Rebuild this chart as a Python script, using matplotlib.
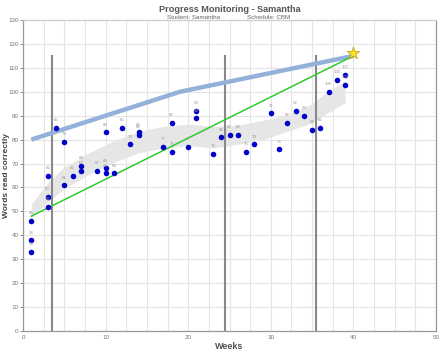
import numpy as np
import matplotlib
matplotlib.use('Agg')
import matplotlib.pyplot as plt

plt.rcParams['font.family'] = ['Liberation Sans', 'DejaVu Sans']

# scores
weeks = [1, 1, 1, 3, 3, 3, 4, 5, 5, 6, 7, 7, 9, 10, 10, 10, 11, 12, 13, 14, 14,
         17, 18, 18, 20, 21, 21, 23, 24, 25, 26, 27, 28, 30, 31, 32, 33, 34, 35,
         36, 37, 38, 39, 39]
scores = [33, 38, 46, 52, 56, 65, 85, 79, 61, 65, 69, 67, 67, 83, 68, 66, 66, 85,
          78, 83, 82, 77, 87, 75, 77, 92, 89, 74, 81, 82, 82, 75, 78, 91, 76, 87,
          92, 90, 84, 85, 100, 105, 107, 103]

# goal line (aim line) and trend line
goal_weeks = [1, 19, 40]
goal_vals = [80, 100, 115]
aim_weeks = [1, 40]
aim_vals = [48, 115]
star_week = 40
star_val = 116

# shaded trend band
band_weeks = [1, 3, 5, 8, 11, 14, 17, 20, 23, 26, 29, 32, 35, 37, 39]
band_mid = [50, 58, 64, 70, 75, 79, 81, 82, 81, 82, 84, 87, 91, 96, 100]
band_half = [3, 4, 4.5, 4.5, 4.5, 4.5, 4.5, 4.5, 4.5, 4, 4, 3.5, 4, 4.5, 4.5]

# phase change lines
phase_weeks = [3.5, 24.5, 35.5]
phase_top = 115

fig = plt.figure(figsize=(4.4, 3.56), dpi=100)
ax = fig.add_axes([23/440, 25/356, 413/440, 311/356])

ax.set_xlim(0, 50)
ax.set_ylim(0, 130)

ax.set_xticks(np.arange(0, 51, 2.5), minor=True)
ax.set_xticks([0, 10, 20, 30, 40, 50])
ax.set_yticks(np.arange(0, 131, 10))
ax.grid(True, which='both', axis='x', color='#e4e4e4', lw=0.8)
ax.grid(True, which='major', axis='y', color='#e4e4e4', lw=0.8)
ax.set_axisbelow(True)
ax.tick_params(axis='both', labelsize=4.5, colors='#777777', length=2, width=0.6)
ax.tick_params(axis='y', pad=1.2)
ax.tick_params(axis='x', which='minor', length=0)
ax.tick_params(axis='x', length=0, pad=3)
for s in ax.spines.values():
    s.set_color('#999999')
    s.set_linewidth(0.9)
ax.spines['top'].set_color('#cccccc')

lo = np.array(band_mid) - np.array(band_half)
hi = np.array(band_mid) + np.array(band_half)
ax.fill_between(band_weeks, lo, hi, color='#e6e6e6', lw=0, zorder=1)

for w in phase_weeks:
    ax.plot([w, w], [0, phase_top], color='#888888', lw=1.5, zorder=2)

ax.plot(goal_weeks, goal_vals, color='#94b2d9', lw=3.2, solid_capstyle='butt', zorder=3)
ax.plot(aim_weeks, aim_vals, color='#2ecc2e', lw=1.1, zorder=3)

ax.scatter(weeks, scores, s=16, color='#0000cc', zorder=5, lw=0)
for w, v in zip(weeks, scores):
    ax.annotate(str(v), (w, v), xytext=(0, 4), textcoords='offset points',
                ha='center', va='bottom', fontsize=3.2, color='#999999', zorder=6)

ax.scatter([star_week], [star_val], marker='*', s=90, color='#ffe22e',
           edgecolor='#b8a000', lw=0.5, zorder=7)

ax.set_xlabel('Weeks', fontsize=6.5, fontweight='bold', color='#555555', labelpad=1)
ax.set_ylabel('Words read correctly', fontsize=6.0, fontweight='bold', color='#444444')
ax.yaxis.set_label_coords(-0.031, 0.5)

fig.text(0.523, 0.972, 'Progress Monitoring - Samantha', ha='center', va='center',
         fontsize=6.6, fontweight='bold', color='#555555')
fig.text(0.44, 0.95, 'Student: Samantha', ha='center', va='center',
         fontsize=4.5, color='#666666')
fig.text(0.61, 0.95, 'Schedule: CBM', ha='center', va='center',
         fontsize=4.5, color='#666666')

fig.savefig('out.png', dpi=100)
